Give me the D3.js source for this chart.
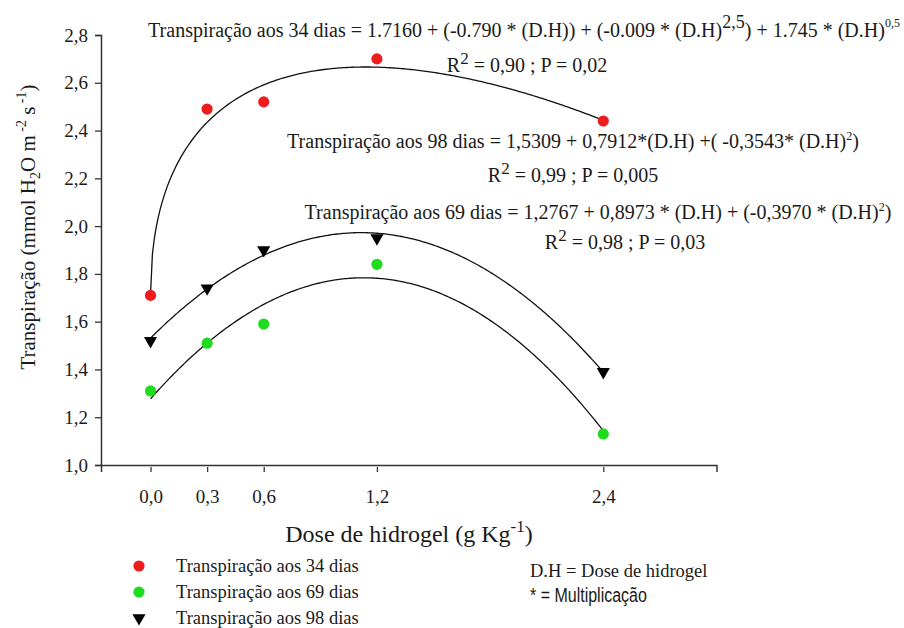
<!DOCTYPE html>
<html>
<head>
<meta charset="utf-8">
<script src="https://cdn.jsdelivr.net/npm/d3@7"></script>
<style>
  html, body { margin: 0; padding: 0; background: #fff; }
  svg { display: block; }
</style>
</head>
<body>
<svg id="chart" width="904" height="628"></svg>
<script>
// Doses of hydrogel (g Kg-1) and mean transpiration per evaluation date
const doses = [0, 0.3, 0.6, 1.2, 2.4];
const t34 = [1.71, 2.49, 2.52, 2.70, 2.44];
const t69 = [1.31, 1.51, 1.59, 1.84, 1.13];
const t98 = [1.52, 1.74, 1.90, 1.95, 1.39];

// Fitted regression coefficients printed on the chart
const coef34 = [1.7160, -0.790, -0.009, 1.745];   // a + b*x + c*x^2.5 + d*x^0.5
const coef69 = [1.2767, 0.8973, -0.3970];         // a + b*x + c*x^2
const coef98 = [1.5309, 0.7912, -0.3543];         // a + b*x + c*x^2

const yTicks = [1.0, 1.2, 1.4, 1.6, 1.8, 2.0, 2.2, 2.4, 2.6, 2.8];
const xTicks = [0, 0.3, 0.6, 1.2, 2.4];

const SERIF = '"Liberation Serif"';
const svg = d3.select("#chart");
const x = d3.scaleLinear().domain([-0.2625, 3.0]).range([101, 716.5]);
const y = d3.scaleLinear().domain([1.0, 2.8]).range([465, 35]);
const comma = v => d3.format(".1f")(v).replace(".", ",");
const axisColor = "#333";
const ink = "#1a1a1a";

// Y axis
const yAxis = svg.append("g").attr("transform", `translate(${x.range()[0]},0)`)
  .call(d3.axisLeft(y).tickValues(yTicks).tickFormat(comma).tickSizeOuter(0).tickSize(6).tickPadding(7));
yAxis.attr("font-family", null).attr("font-size", null);
yAxis.select(".domain").attr("stroke", axisColor).attr("stroke-width", 1.5);
yAxis.selectAll(".tick line").attr("stroke", axisColor).attr("stroke-width", 1.3);
yAxis.selectAll(".tick text").style("font-family", SERIF).style("font-size", "19px").attr("fill", ink);

// X axis (ticks sit just below the line)
const xAxis = svg.append("g").attr("transform", `translate(0,${y.range()[0]})`)
  .call(d3.axisBottom(x).tickValues(xTicks).tickFormat(comma).tickSizeOuter(0).tickSize(7).tickPadding(18));
xAxis.attr("font-family", null).attr("font-size", null);
xAxis.select(".domain").attr("stroke", axisColor).attr("stroke-width", 1.5);
xAxis.selectAll(".tick line").attr("stroke", axisColor).attr("stroke-width", 1.3).attr("y1", 2);
xAxis.selectAll(".tick text").style("font-family", SERIF).style("font-size", "19px").attr("fill", ink);

// Fitted curves
const f34 = d => coef34[0] + coef34[1] * d + coef34[2] * Math.pow(d, 2.5) + coef34[3] * Math.sqrt(d);
const f2 = c => d => c[0] + c[1] * d + c[2] * d * d;
const grid = d3.range(0, 2.4001, 0.01);
const line = d3.line().x(d => x(d[0])).y(d => y(d[1]));
[f34, f2(coef98), f2(coef69)].forEach(fn => {
  svg.append("path")
    .attr("d", line(grid.map(d => [d, fn(d)])))
    .attr("fill", "none").attr("stroke", "#111").attr("stroke-width", 1.3);
});

// Observed points
const red = "#ee1c1c", green = "#1fdc1f";
svg.append("g").selectAll("circle").data(doses).join("circle")
  .attr("cx", d => x(d)).attr("cy", (d, i) => y(t34[i])).attr("r", 5.6).attr("fill", red);
svg.append("g").selectAll("circle").data(doses).join("circle")
  .attr("cx", d => x(d)).attr("cy", (d, i) => y(t69[i])).attr("r", 5.6).attr("fill", green);
const tri = d3.symbol().type(d3.symbolTriangle).size(75);
svg.append("g").selectAll("path").data(doses).join("path")
  .attr("d", tri)
  .attr("transform", (d, i) => `translate(${x(d)},${y(t98[i])}) rotate(180)`)
  .attr("fill", "#000");

// Text helper: a <text> built from pieces, some raised or lowered
function rich(xp, yp, size, parts, anchor = "middle", transform = null) {
  const t = svg.append("text").attr("text-anchor", anchor).attr("fill", ink)
    .style("font-family", SERIF).style("font-size", size + "px");
  if (transform) t.attr("transform", transform); else t.attr("x", xp).attr("y", yp);
  let shift = 0;
  parts.forEach(p => {
    const s = t.append("tspan").text(p.t);
    const target = p.up || 0;
    if (target !== shift) s.attr("dy", -(target - shift));
    shift = target;
    if (p.fs) s.style("font-size", p.fs + "px");
  });
  return t;
}

// Axis titles
rich(0, 0, 21, [
  { t: "Transpiração (mmol H" }, { t: "2", up: -5, fs: 14 }, { t: "O m" },
  { t: " -2", up: 9, fs: 14 }, { t: " s" }, { t: " -1", up: 9, fs: 14 }, { t: ")" }
], "middle", "translate(35,227) rotate(-90)");

rich(409, 542, 24, [
  { t: "Dose de hidrogel (g Kg" }, { t: "-1", up: 10, fs: 17 }, { t: ")" }
]);

// Regression equations
rich(524, 37, 20, [
  { t: "Transpiração aos 34 dias = 1.7160 + (-0.790 * (D.H)) + (-0.009 * (D.H)" },
  { t: "2,5", up: 9, fs: 18 },
  { t: ") + 1.745 * (D.H)" },
  { t: "0,5", up: 10, fs: 12 }
]);
rich(527, 72, 20, [{ t: "R" }, { t: "2", up: 8, fs: 17 }, { t: " = 0,90 ; P = 0,02" }]);
rich(573, 148, 20, [
  { t: "Transpiração aos 98 dias = 1,5309 + 0,7912*(D.H) +( -0,3543* (D.H)" },
  { t: "2", up: 8, fs: 12 }, { t: ")" }
]);
rich(573, 182, 20, [{ t: "R" }, { t: "2", up: 8, fs: 17 }, { t: " = 0,99 ; P = 0,005" }]);
rich(598, 219, 20, [
  { t: "Transpiração aos 69 dias = 1,2767 + 0,8973 * (D.H) + (-0,3970 * (D.H)" },
  { t: "2", up: 8, fs: 12 }, { t: ")" }
]);
rich(625, 249, 20, [{ t: "R" }, { t: "2", up: 8, fs: 17 }, { t: " = 0,98 ; P = 0,03" }]);

// Legend
const legend = [
  { label: "Transpiração aos 34 dias", kind: "circle", color: red },
  { label: "Transpiração aos 69 dias", kind: "circle", color: green },
  { label: "Transpiração aos 98 dias", kind: "tri", color: "#000" }
];
const lg = svg.append("g").selectAll("g").data(legend).join("g")
  .attr("transform", (d, i) => `translate(139,${566 + i * 26})`);
lg.filter(d => d.kind === "circle").append("circle").attr("r", 5.6).attr("fill", d => d.color);
lg.filter(d => d.kind === "tri").append("path").attr("d", tri).attr("transform", "rotate(180)").attr("fill", d => d.color);
lg.append("text").attr("x", 37).attr("y", 6).attr("fill", ink)
  .style("font-family", SERIF).style("font-size", "18.5px").text(d => d.label);

svg.append("text").attr("x", 530).attr("y", 577).attr("fill", ink)
  .style("font-family", SERIF).style("font-size", "18.5px")
  .text("D.H = Dose de hidrogel");
svg.append("text").attr("transform", "translate(530,602) scale(0.82,1)").attr("fill", ink)
  .style("font-family", '"Liberation Sans"').style("font-size", "19.5px")
  .text("* = Multiplicação");
</script>
</body>
</html>
